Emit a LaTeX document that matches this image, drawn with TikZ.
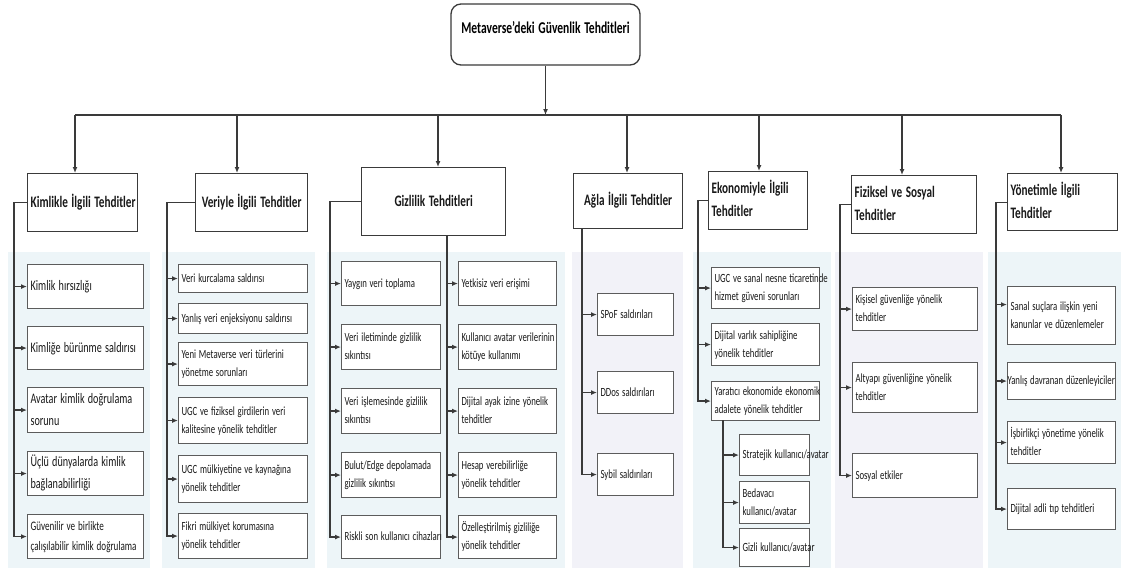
\documentclass[tikz,border=0pt]{standalone}
\usepackage{fontspec}
\setmainfont{Carlito}[FakeStretch=0.7, WordSpace=1.4]
\usetikzlibrary{arrows.meta}
\definecolor{panelblue}{HTML}{EDF5F8}
\definecolor{panellav}{HTML}{F2F2F8}
\definecolor{linegray}{HTML}{3A3A3A}
\definecolor{boxgray}{HTML}{5C5C5C}

\begin{document}
\begin{tikzpicture}[x=1pt,y=-1pt]
    \tikzstyle{item}=[draw=boxgray, fill=white, line width=1.1pt, anchor=north west,
        inner xsep=3pt, inner ysep=0pt, align=left, text=black!90,
        font=\fontsize{12.5}{18}\selectfont]
    \tikzstyle{big}=[font=\fontsize{14.5}{22}\selectfont]
    \tikzstyle{cat}=[item, draw=linegray, line width=1.3pt, align=center,
        font=\bfseries\fontsize{16}{23}\selectfont]
    \tikzstyle{link}=[->, >={Latex[length=6pt,width=5pt]}, line width=1.2pt, draw=linegray]

    \newcommand{\itm}[7][]{%
        \pgfmathsetmacro{\itmw}{#5-#3-6}%
        \pgfmathsetmacro{\itmh}{#6-#4}%
        \node[item,#1,text width=\itmw pt,minimum height=\itmh pt] (#2) at (#3,#4)
            {\spaceskip=0pt\xspaceskip=0pt\begin{tabular}{@{}l@{}}#7\end{tabular}};}

    \useasboundingbox (0,0) rectangle (1121,568);

    % background panels
    \foreach \a/\b/\c in {8/150/panelblue, 162/315/panelblue, 327/565/panelblue,
        572/683/panellav, 693/831/panelblue, 835/983/panellav, 988/1121/panelblue}
        \fill[\c] (\a,252) rectangle (\b,568);

    % root
    \node[draw=linegray, line width=1.3pt, rounded corners=10pt, fill=white,
        minimum width=189pt, minimum height=61pt, text depth=14pt,
        font=\bfseries\fontsize{16.5}{20}\selectfont] (root) at (545.5,34.5)
        {Metaverse'deki Güvenlik Tehditleri};

    % categories
    \itm[cat]{kim}{27}{173}{137}{231}{Kimlikle İlgili Tehditler}
    \itm[cat]{ver}{195}{173}{307}{231}{Veriyle İlgili Tehditler}
    \itm[cat]{giz}{361}{167}{505}{235}{Gizlilik Tehditleri}
    \itm[cat]{ag}{573}{173}{682}{228}{Ağla İlgili Tehditler}
    \itm[cat,align=left]{eko}{708}{171}{807}{229}{Ekonomiyle İlgili\\Tehditler}
    \itm[cat,align=left]{fiz}{851}{175}{976}{233}{Fiziksel ve Sosyal\\Tehditler}
    \itm[cat,align=left]{yon}{1007}{173}{1117}{230}{Yönetimle İlgili\\Tehditler}

    \foreach \n/\x in {kim/75, ver/237, giz/438, ag/627, eko/759, fiz/902, yon/1061}
        \coordinate (t\n) at (\x,115);
    \draw[line width=1.2pt, draw=linegray] (tkim) -- (tyon);
    \draw[link] (root) -- (root |- tkim);
    \foreach \n in {kim, ver, giz, ag, eko, fiz, yon}
        \draw[link] (t\n) -- (t\n |- \n.north);

    % Kimlikle
    \itm[big]{k1}{27}{264}{143}{308}{Kimlik hırsızlığı}
    \itm[big]{k2}{27}{326}{143}{369}{Kimliğe bürünme saldırısı}
    \itm[big]{k3}{27}{387}{143}{432}{Avatar kimlik doğrulama\\sorunu}
    \itm[big]{k4}{27}{451}{143}{493}{Üçlü dünyalarda kimlik\\bağlanabilirliği}
    \itm[font=\fontsize{13}{20}\selectfont]{k5}{27}{514}{143}{558}{Güvenilir ve birlikte\\çalışılabilir kimlik doğrulama}
    \foreach \i in {1,...,5} \draw[link] (kim.west) -- ++(-13,0) |- (k\i.west);

    % Veriyle
    \itm{v1}{178}{264}{307}{292}{Veri kurcalama saldırısı}
    \itm{v2}{178}{303}{307}{333}{Yanlış veri enjeksiyonu saldırısı}
    \itm{v3}{178}{342}{307}{385}{Yeni Metaverse veri türlerini\\yönetme sorunları}
    \itm{v4}{178}{397}{307}{443}{UGC ve fiziksel girdilerin veri\\kalitesine yönelik tehditler}
    \itm{v5}{178}{455}{307}{502}{UGC mülkiyetine ve kaynağına\\yönelik tehditler}
    \itm{v6}{178}{513}{307}{558}{Fikri mülkiyet korumasına\\yönelik tehditler}
    \foreach \i in {1,...,6} \draw[link] (ver.west) -- ++(-28,0) |- (v\i.west);

    % Gizlilik
    \itm{gl1}{341}{261}{440}{305}{Yaygın veri toplama}
    \itm{gl2}{341}{324}{440}{369}{Veri iletiminde gizlilik\\sıkıntısı}
    \itm{gl3}{341}{388}{440}{433}{Veri işlemesinde gizlilik\\sıkıntısı}
    \itm{gl4}{341}{452}{440}{497}{Bulut/Edge depolamada\\gizlilik sıkıntısı}
    \itm{gl5}{341}{515}{440}{558}{Riskli son kullanıcı cihazları}
    \itm{gr1}{458}{261}{556}{305}{Yetkisiz veri erişimi}
    \itm{gr2}{458}{324}{556}{369}{Kullanıcı avatar verilerinin\\kötüye kullanımı}
    \itm{gr3}{458}{388}{556}{433}{Dijital ayak izine yönelik\\tehditler}
    \itm{gr4}{458}{452}{556}{497}{Hesap verebilirliğe\\yönelik tehditler}
    \itm{gr5}{458}{515}{556}{558}{Özelleştirilmiş gizliliğe\\yönelik tehditler}
    \coordinate (gizr) at (447,235);
    \foreach \i in {1,...,5} {
        \draw[link] (giz.west) -- ++(-31,0) |- (gl\i.west);
        \draw[link] (gizr) |- (gr\i.west);
    }

    % Ağla
    \itm{a1}{597}{293}{673}{335}{SPoF saldırıları}
    \itm{a2}{597}{371}{673}{413}{DDos saldırıları}
    \itm{a3}{597}{453}{673}{495}{Sybil saldırıları}
    \coordinate (agt) at (582,228);
    \foreach \i in {1,2,3} \draw[link] (agt) |- (a\i.west);

    % Ekonomiyle
    \itm{e1}{711}{267}{819}{308}{UGC ve sanal nesne ticaretinde\\hizmet güveni sorunları}
    \itm{e2}{711}{323}{819}{365}{Dijital varlık sahipliğine\\yönelik tehditler}
    \itm{e3}{711}{381}{819}{420}{Yaratıcı ekonomide ekonomik\\adalete yönelik tehditler}
    \itm{s1}{739}{434}{809}{475}{Stratejik kullanıcı/avatar}
    \itm{s2}{739}{481}{809}{523}{Bedavacı\\kullanıcı/avatar}
    \itm{s3}{739}{528}{809}{566}{Gizli kullanıcı/avatar}
    \coordinate (e3t) at (723,420);
    \foreach \i in {1,2,3} {
        \draw[link] (eko.west) -- ++(-10,0) |- (e\i.west);
        \draw[link] (e3t) |- (s\i.west);
    }

    % Fiziksel
    \itm{f1}{852}{287}{977}{330}{Kişisel güvenliğe yönelik\\tehditler}
    \itm{f2}{852}{362}{977}{412}{Altyapı güvenliğine yönelik\\tehditler}
    \itm{f3}{852}{453}{977}{497}{Sosyal etkiler}
    \foreach \i in {1,2,3} \draw[link] (fiz.west) -- ++(-11,0) |- (f\i.west);

    % Yönetimle
    \itm{y1}{1007}{286}{1115}{344}{Sanal suçlara ilişkin yeni\\kanunlar ve düzenlemeler}
    \itm{y2}{1007}{362}{1115}{399}{\hspace*{-3pt}Yanlış davranan düzenleyiciler}
    \itm{y3}{1007}{421}{1115}{463}{İşbirlikçi yönetime yönelik\\tehditler}
    \itm{y4}{1007}{488}{1115}{529}{Dijital adli tıp tehditleri}
    \draw[link] (yon.west) -- ++(-11,0) |- ([yshift=11pt]y1.west);
    \foreach \i in {2,3,4} \draw[link] (yon.west) -- ++(-11,0) |- (y\i.west);
\end{tikzpicture}
\end{document}
